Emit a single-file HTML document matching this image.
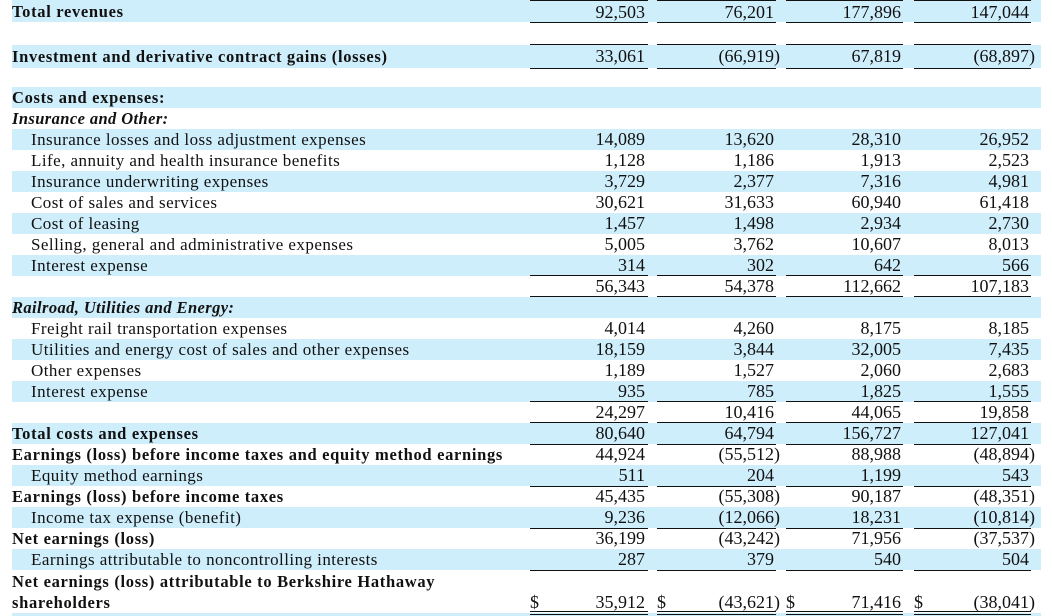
<!DOCTYPE html>
<html><head><meta charset="utf-8"><style>
*{margin:0;padding:0;box-sizing:border-box}
body{width:1052px;height:616px;background:#fff;position:relative;overflow:hidden;font-family:"Liberation Serif",serif;color:#111}
.r{position:absolute;left:0;width:1052px;height:21px;line-height:21px;font-size:17px}
.b::before{content:"";position:absolute;left:12px;right:11px;top:0;bottom:0;background:#cfeefb;z-index:-1}
.lb{position:absolute;left:12px;white-space:nowrap}
.in{left:31px;letter-spacing:0.45px}
.bd{font-weight:bold;font-size:16.5px;letter-spacing:0.68px}
.it{font-weight:bold;font-style:italic;font-size:16.5px;letter-spacing:0.4px}
.n{position:absolute;white-space:nowrap;font-size:18px}
.n i{font-style:normal;position:absolute;left:100%}
.c1{right:407px}.c2{right:278px}.c3{right:151px}.c4{right:23px}
.ln{position:absolute;left:0;width:1052px;height:1px}
.ln b{position:absolute;top:0;height:1.3px;background:#111}
.L1{left:530px;width:118px}.L2{left:657px;width:119px}.L3{left:786px;width:117px}.L4{left:914px;width:117px}
.d{position:absolute;font-size:18px}
</style></head><body>

<div class="r b" style="top:0;height:22px;line-height:24px"><span class="lb bd">Total revenues</span><span class="n c1">92,503</span><span class="n c2">76,201</span><span class="n c3">177,896</span><span class="n c4">147,044</span></div>
<div class="r b" style="top:45px;height:23px;line-height:23px"><span class="lb bd">Investment and derivative contract gains (losses)</span><span class="n c1">33,061</span><span class="n c2">(66,919<i>)</i></span><span class="n c3">67,819</span><span class="n c4">(68,897<i>)</i></span></div>

<div class="r b" style="top:87px"><span class="lb bd">Costs and expenses:</span></div>
<div class="r" style="top:108px"><span class="lb it">Insurance and Other:</span></div>
<div class="r b" style="top:129px"><span class="lb in">Insurance losses and loss adjustment expenses</span><span class="n c1">14,089</span><span class="n c2">13,620</span><span class="n c3">28,310</span><span class="n c4">26,952</span></div>
<div class="r" style="top:150px"><span class="lb in">Life, annuity and health insurance benefits</span><span class="n c1">1,128</span><span class="n c2">1,186</span><span class="n c3">1,913</span><span class="n c4">2,523</span></div>
<div class="r b" style="top:171px"><span class="lb in">Insurance underwriting expenses</span><span class="n c1">3,729</span><span class="n c2">2,377</span><span class="n c3">7,316</span><span class="n c4">4,981</span></div>
<div class="r" style="top:192px"><span class="lb in">Cost of sales and services</span><span class="n c1">30,621</span><span class="n c2">31,633</span><span class="n c3">60,940</span><span class="n c4">61,418</span></div>
<div class="r b" style="top:213px"><span class="lb in">Cost of leasing</span><span class="n c1">1,457</span><span class="n c2">1,498</span><span class="n c3">2,934</span><span class="n c4">2,730</span></div>
<div class="r" style="top:234px"><span class="lb in">Selling, general and administrative expenses</span><span class="n c1">5,005</span><span class="n c2">3,762</span><span class="n c3">10,607</span><span class="n c4">8,013</span></div>
<div class="r b" style="top:255px"><span class="lb in">Interest expense</span><span class="n c1">314</span><span class="n c2">302</span><span class="n c3">642</span><span class="n c4">566</span></div>
<div class="r" style="top:276px"><span class="n c1">56,343</span><span class="n c2">54,378</span><span class="n c3">112,662</span><span class="n c4">107,183</span></div>
<div class="r b" style="top:297px"><span class="lb it">Railroad, Utilities and Energy:</span></div>
<div class="r" style="top:318px"><span class="lb in">Freight rail transportation expenses</span><span class="n c1">4,014</span><span class="n c2">4,260</span><span class="n c3">8,175</span><span class="n c4">8,185</span></div>
<div class="r b" style="top:339px"><span class="lb in">Utilities and energy cost of sales and other expenses</span><span class="n c1">18,159</span><span class="n c2">3,844</span><span class="n c3">32,005</span><span class="n c4">7,435</span></div>
<div class="r" style="top:360px"><span class="lb in">Other expenses</span><span class="n c1">1,189</span><span class="n c2">1,527</span><span class="n c3">2,060</span><span class="n c4">2,683</span></div>
<div class="r b" style="top:381px"><span class="lb in">Interest expense</span><span class="n c1">935</span><span class="n c2">785</span><span class="n c3">1,825</span><span class="n c4">1,555</span></div>
<div class="r" style="top:402px"><span class="n c1">24,297</span><span class="n c2">10,416</span><span class="n c3">44,065</span><span class="n c4">19,858</span></div>
<div class="r b" style="top:423px"><span class="lb bd">Total costs and expenses</span><span class="n c1">80,640</span><span class="n c2">64,794</span><span class="n c3">156,727</span><span class="n c4">127,041</span></div>
<div class="r" style="top:444px"><span class="lb bd">Earnings (loss) before income taxes and equity method earnings</span><span class="n c1">44,924</span><span class="n c2">(55,512<i>)</i></span><span class="n c3">88,988</span><span class="n c4">(48,894<i>)</i></span></div>
<div class="r b" style="top:465px"><span class="lb in">Equity method earnings</span><span class="n c1">511</span><span class="n c2">204</span><span class="n c3">1,199</span><span class="n c4">543</span></div>
<div class="r" style="top:486px"><span class="lb bd">Earnings (loss) before income taxes</span><span class="n c1">45,435</span><span class="n c2">(55,308<i>)</i></span><span class="n c3">90,187</span><span class="n c4">(48,351<i>)</i></span></div>
<div class="r b" style="top:507px"><span class="lb in">Income tax expense (benefit)</span><span class="n c1">9,236</span><span class="n c2">(12,066<i>)</i></span><span class="n c3">18,231</span><span class="n c4">(10,814<i>)</i></span></div>
<div class="r" style="top:528px"><span class="lb bd">Net earnings (loss)</span><span class="n c1">36,199</span><span class="n c2">(43,242<i>)</i></span><span class="n c3">71,956</span><span class="n c4">(37,537<i>)</i></span></div>
<div class="r b" style="top:549px"><span class="lb in">Earnings attributable to noncontrolling interests</span><span class="n c1">287</span><span class="n c2">379</span><span class="n c3">540</span><span class="n c4">504</span></div>
<div class="r" style="top:571px"><span class="lb bd">Net earnings (loss) attributable to Berkshire Hathaway</span></div>
<div class="r" style="top:592px"><span class="lb bd">shareholders</span><span class="d" style="left:530px">$</span><span class="n c1">35,912</span><span class="d" style="left:657px">$</span><span class="n c2">(43,621<i>)</i></span><span class="d" style="left:786px">$</span><span class="n c3">71,416</span><span class="d" style="left:914px">$</span><span class="n c4">(38,041<i>)</i></span></div>
<div class="r b" style="top:613px;height:3px"></div>

<div class="ln" style="top:0"><b class="L1"></b><b class="L2"></b><b class="L3"></b><b class="L4"></b></div>
<div class="ln" style="top:22px"><b class="L1"></b><b class="L2"></b><b class="L3"></b><b class="L4"></b></div>
<div class="ln" style="top:44px"><b class="L1"></b><b class="L2"></b><b class="L3"></b><b class="L4"></b></div>
<div class="ln" style="top:68px"><b class="L1"></b><b class="L2"></b><b class="L3"></b><b class="L4"></b></div>
<div class="ln" style="top:275px"><b class="L1"></b><b class="L2"></b><b class="L3"></b><b class="L4"></b></div>
<div class="ln" style="top:296px"><b class="L1"></b><b class="L2"></b><b class="L3"></b><b class="L4"></b></div>
<div class="ln" style="top:401px"><b class="L1"></b><b class="L2"></b><b class="L3"></b><b class="L4"></b></div>
<div class="ln" style="top:422px"><b class="L1"></b><b class="L2"></b><b class="L3"></b><b class="L4"></b></div>
<div class="ln" style="top:444px"><b class="L1"></b><b class="L2"></b><b class="L3"></b><b class="L4"></b></div>
<div class="ln" style="top:486px"><b class="L1"></b><b class="L2"></b><b class="L3"></b><b class="L4"></b></div>
<div class="ln" style="top:528px"><b class="L1"></b><b class="L2"></b><b class="L3"></b><b class="L4"></b></div>
<div class="ln" style="top:570px"><b class="L1"></b><b class="L2"></b><b class="L3"></b><b class="L4"></b></div>
<div class="ln" style="top:611px"><b class="L1"></b><b class="L2"></b><b class="L3"></b><b class="L4"></b></div>
<div class="ln" style="top:614px"><b class="L1"></b><b class="L2"></b><b class="L3"></b><b class="L4"></b></div>
</body></html>
